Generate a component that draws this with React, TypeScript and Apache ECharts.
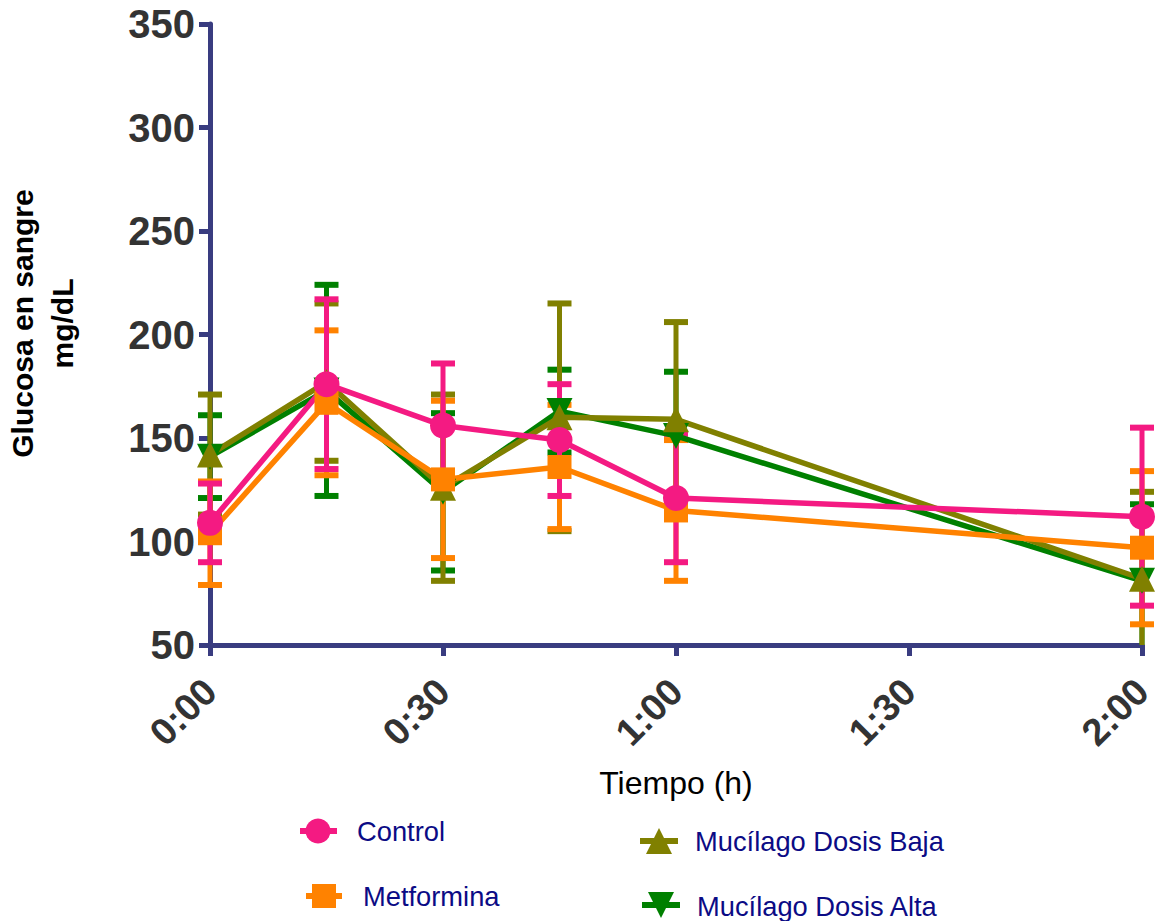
import React, { useEffect, useRef } from "react";
import * as echarts from "echarts";

// Sampling times (minutes after dosing)
const times = [0, 15, 30, 45, 60, 120];

// Blood glucose, mean and SEM (mg/dL)
const controlMean = [109, 176, 156, 149, 121, 112];
const controlSem = [19, 41, 30, 27, 31, 43];
const metforminaMean = [104, 167, 130, 136, 115, 97];
const metforminaSem = [25, 35, 38, 30, 34, 37];
const bajaMean = [142, 177, 126, 160, 159, 82];
const bajaSem = [29, 38, 45, 55, 47, 42];
const altaMean = [141, 173, 124, 163, 151, 81];
const altaSem = [20, 51, 38, 20, 31, 37];

const seriesNames = ["Control", "Metformina", "Mucílago Dosis Baja", "Mucílago Dosis Alta"];

const Y_MIN = 50;
const Y_MAX = 350;
const Y_STEP = 50;
const X_MIN = 0;
const X_MAX = 120;
const X_STEP = 30;

const AXIS_COLOR = "#393c80";
const FONT = "'Liberation Sans', Arial, Helvetica, sans-serif";
const LEGEND_TEXT = "#0b0b85";

const COLORS = {
  control: "#f41a82",
  metformina: "#ff8200",
  baja: "#808000",
  alta: "#008000",
};

function formatTime(v: number): string {
  const h = Math.floor(v / 60);
  const m = Math.round(v % 60);
  return `${h}:${String(m).padStart(2, "0")}`;
}

function lineSeries(name: string, mean: number[], color: string, symbol: string, rotate = 0) {
  return {
    type: "line",
    name,
    data: times.map((t, i) => [t, mean[i]]),
    symbol,
    symbolSize: symbol === "rect" ? 24 : 26,
    symbolRotate: rotate,
    showSymbol: true,
    lineStyle: { color, width: 5.5 },
    itemStyle: { color, opacity: 1 },
    emphasis: { disabled: true },
    z: 3,
  };
}

function errorSeries(name: string, mean: number[], sem: number[], color: string) {
  return {
    type: "custom",
    name,
    data: times.map((t, i) => [t, mean[i] - sem[i], mean[i] + sem[i]]),
    encode: { x: 0, y: [1, 2] },
    clip: false,
    silent: true,
    z: 3,
    renderItem: (_params: any, api: any) => {
      const x = api.value(0);
      const lo = api.value(1);
      const hi = api.value(2);
      const top = api.coord([x, Math.min(hi, Y_MAX)]);
      const bot = api.coord([x, Math.max(lo, Y_MIN)]);
      const half = 12;
      const children: any[] = [
        {
          type: "line",
          shape: { x1: top[0], y1: top[1], x2: bot[0], y2: bot[1] },
          style: { stroke: color, lineWidth: 5 },
        },
      ];
      if (hi <= Y_MAX) {
        children.push({
          type: "line",
          shape: { x1: top[0] - half, y1: top[1], x2: top[0] + half, y2: top[1] },
          style: { stroke: color, lineWidth: 6 },
        });
      }
      if (lo >= Y_MIN) {
        children.push({
          type: "line",
          shape: { x1: bot[0] - half, y1: bot[1], x2: bot[0] + half, y2: bot[1] },
          style: { stroke: color, lineWidth: 6 },
        });
      }
      return { type: "group", children };
    },
  };
}

// Hand-built legend entries: a short line stub with the series marker and label
function legendItem(
  label: string,
  color: string,
  marker: "circle" | "rect" | "up" | "down",
  stubX1: number,
  stubX2: number,
  cx: number,
  cy: number,
  textX: number,
  textY: number
) {
  const children: any[] = [
    { type: "rect", shape: { x: stubX1, y: cy - 3, width: stubX2 - stubX1, height: 6 }, style: { fill: color } },
  ];
  if (marker === "circle") {
    children.push({ type: "circle", shape: { cx, cy, r: 12.5 }, style: { fill: color } });
  } else if (marker === "rect") {
    children.push({ type: "rect", shape: { x: cx - 12, y: cy - 12, width: 24, height: 24 }, style: { fill: color } });
  } else if (marker === "up") {
    children.push({
      type: "polygon",
      shape: { points: [[cx, cy - 13], [cx + 13, cy + 13], [cx - 13, cy + 13]] },
      style: { fill: color },
    });
  } else {
    children.push({
      type: "polygon",
      shape: { points: [[cx - 13, cy - 13], [cx + 13, cy - 13], [cx, cy + 13]] },
      style: { fill: color },
    });
  }
  children.push({
    type: "text",
    x: textX,
    y: textY,
    style: {
      text: label,
      fill: LEGEND_TEXT,
      font: `27.3px ${FONT}`,
      textAlign: "left",
      textVerticalAlign: "middle",
    },
  });
  return { type: "group", children };
}

export default function App() {
  const ref = useRef<HTMLDivElement>(null);

  useEffect(() => {
    if (!ref.current) return;
    const chart = echarts.init(ref.current, null, { renderer: "svg" });

    const option: any = {
      animation: false,
      backgroundColor: "#ffffff",
      grid: {
        left: 210,
        right: 16,
        top: 24,
        bottom: 276,
        containLabel: false,
        outerBoundsMode: "none",
      },
      xAxis: {
        type: "value",
        min: X_MIN,
        max: X_MAX,
        interval: X_STEP,
        name: "Tiempo (h)",
        nameLocation: "middle",
        nameGap: 122,
        nameTextStyle: { fontFamily: FONT, fontSize: 32, color: "#000000" },
        axisLine: { show: true, onZero: false, lineStyle: { color: AXIS_COLOR, width: 5 } },
        axisTick: { show: true, length: 11, lineStyle: { color: AXIS_COLOR, width: 5 } },
        axisLabel: {
          rotate: 45,
          margin: 40,
          formatter: (v: number) => formatTime(v),
          fontFamily: FONT,
          fontSize: 38,
          fontWeight: "bold",
          color: "#333333",
        },
        splitLine: { show: false },
      },
      yAxis: {
        type: "value",
        min: Y_MIN,
        max: Y_MAX,
        interval: Y_STEP,
        name: "Glucosa en sangre\nmg/dL",
        nameLocation: "middle",
        nameRotate: 90,
        nameGap: 128,
        nameTextStyle: {
          fontFamily: FONT,
          fontSize: 30,
          fontWeight: "bold",
          color: "#000000",
          lineHeight: 40,
          align: "center",
          padding: [0, 0, 0, 22],
        },
        axisLine: { show: true, onZero: false, lineStyle: { color: AXIS_COLOR, width: 5 } },
        axisTick: { show: true, length: 11, lineStyle: { color: AXIS_COLOR, width: 5 } },
        axisLabel: {
          margin: 15,
          fontFamily: FONT,
          fontSize: 40,
          fontWeight: "bold",
          color: "#333333",
        },
        splitLine: { show: false },
      },
      series: [
        lineSeries(seriesNames[3], altaMean, COLORS.alta, "triangle", 180),
        errorSeries(seriesNames[3] + " SEM", altaMean, altaSem, COLORS.alta),
        lineSeries(seriesNames[2], bajaMean, COLORS.baja, "triangle"),
        errorSeries(seriesNames[2] + " SEM", bajaMean, bajaSem, COLORS.baja),
        lineSeries(seriesNames[1], metforminaMean, COLORS.metformina, "rect"),
        errorSeries(seriesNames[1] + " SEM", metforminaMean, metforminaSem, COLORS.metformina),
        lineSeries(seriesNames[0], controlMean, COLORS.control, "circle"),
        errorSeries(seriesNames[0] + " SEM", controlMean, controlSem, COLORS.control),
      ],
      graphic: [
        legendItem(seriesNames[0], COLORS.control, "circle", 300, 337, 318, 831, 357, 831),
        legendItem(seriesNames[1], COLORS.metformina, "rect", 306, 342, 324, 896, 363, 896),
        legendItem(seriesNames[2], COLORS.baja, "up", 640, 678, 659, 841, 695, 841),
        legendItem(seriesNames[3], COLORS.alta, "down", 642, 680, 661, 905, 697, 906),
      ],
    };

    chart.setOption(option);
    return () => chart.dispose();
  }, []);

  return (
    <div
      ref={ref}
      style={{ position: "fixed", left: 0, top: 0, width: 1158, height: 921, background: "#ffffff" }}
    />
  );
}
